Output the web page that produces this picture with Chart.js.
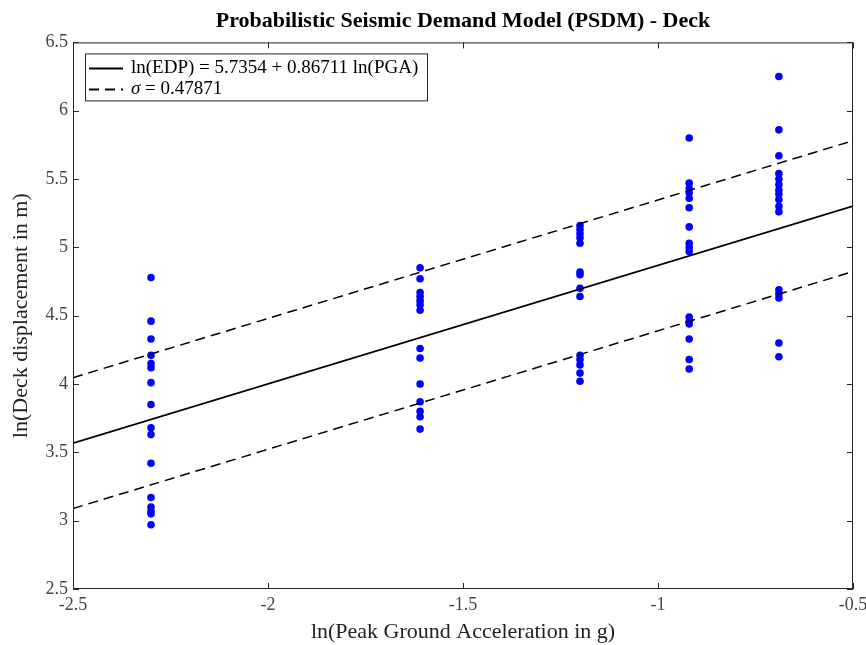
<!DOCTYPE html>
<html>
<head>
<meta charset="utf-8">
<title>PSDM - Deck</title>
<script src="https://cdn.jsdelivr.net/npm/chart.js@4/dist/chart.umd.min.js"></script>
<style>
  html, body { margin: 0; padding: 0; background: #fff; }
  #wrap { width: 866px; height: 645px; position: relative; }
</style>
</head>
<body>
<div id="wrap"><canvas id="psdm-chart" width="866" height="645"></canvas></div>
<script>
// ln(PGA) levels, one column of records each
const lnPGA = [-2.30, -1.61, -1.20, -0.92, -0.69];

// ln(deck displacement)
const lnEDP_01 = [4.78, 4.46, 4.33, 4.21, 4.15, 4.12, 4.01, 3.85, 3.68, 3.63, 3.42, 3.17, 3.10, 3.07, 3.05, 2.97];
const lnEDP_02 = [4.85, 4.77, 4.67, 4.64, 4.61, 4.58, 4.54, 4.26, 4.19, 4.00, 3.87, 3.80, 3.76, 3.67];
const lnEDP_03 = [5.16, 5.13, 5.10, 5.07, 5.03, 4.82, 4.80, 4.70, 4.64, 4.21, 4.18, 4.14, 4.08, 4.02];
const lnEDP_04 = [5.80, 5.47, 5.43, 5.40, 5.36, 5.29, 5.15, 5.03, 5.00, 4.97, 4.49, 4.46, 4.44, 4.33, 4.18, 4.11];
const lnEDP_05 = [6.25, 5.86, 5.67, 5.54, 5.50, 5.46, 5.42, 5.39, 5.35, 5.30, 5.26, 4.69, 4.66, 4.63, 4.30, 4.20];
const columns = [lnEDP_01, lnEDP_02, lnEDP_03, lnEDP_04, lnEDP_05];

// fitted model from the legend
const intercept = 5.7354;
const slope = 0.86711;
const sigma = 0.47871;
const fitX = [-2.5, -0.5];

// axis ticks
const xTicks = [-2.5, -2, -1.5, -1, -0.5];
const yTicks = [2.5, 3, 3.5, 4, 4.5, 5, 5.5, 6, 6.5];

const serif = '"Liberation Serif", "Times New Roman", serif';

const scatterPts = [];
columns.forEach((col, i) => col.forEach(v => scatterPts.push({ x: lnPGA[i], y: v })));

const fitLine = fitX.map(x => ({ x: x, y: intercept + slope * x }));
const upperLine = fitX.map(x => ({ x: x, y: intercept + slope * x + sigma }));
const lowerLine = fitX.map(x => ({ x: x, y: intercept + slope * x - sigma }));

// box around the axes, inward ticks, and the boxed legend
const matlabAxes = {
  id: 'matlabAxes',
  afterDraw(chart) {
    const { ctx, chartArea: a, scales } = chart;
    ctx.save();
    ctx.strokeStyle = '#262626';
    ctx.lineWidth = 1;
    ctx.strokeRect(a.left + 0.5, a.top + 0.5, a.width - 1, a.height - 1);

    const tl = 6;
    ctx.beginPath();
    xTicks.forEach(t => {
      const px = Math.round(scales.x.getPixelForValue(t)) + 0.5;
      ctx.moveTo(px, a.bottom); ctx.lineTo(px, a.bottom - tl);
      ctx.moveTo(px, a.top); ctx.lineTo(px, a.top + tl);
    });
    yTicks.forEach(t => {
      const py = Math.round(scales.y.getPixelForValue(t)) + 0.5;
      ctx.moveTo(a.left, py); ctx.lineTo(a.left + tl, py);
      ctx.moveTo(a.right, py); ctx.lineTo(a.right - tl, py);
    });
    ctx.stroke();

    // legend
    const lx = a.left + 12, ly = a.top + 11, lw = 342, lh = 47;
    ctx.fillStyle = '#fff';
    ctx.fillRect(lx, ly, lw, lh);
    ctx.strokeStyle = '#262626';
    ctx.strokeRect(lx + 0.5, ly + 0.5, lw, lh);

    const rows = [ly + 15, ly + 36];
    ctx.strokeStyle = '#000';
    ctx.lineWidth = 2;
    ctx.beginPath();
    ctx.moveTo(lx + 4, rows[0]); ctx.lineTo(lx + 38, rows[0]);
    ctx.stroke();
    ctx.setLineDash([10, 6]);
    ctx.beginPath();
    ctx.moveTo(lx + 4, rows[1]); ctx.lineTo(lx + 38, rows[1]);
    ctx.stroke();
    ctx.setLineDash([]);

    ctx.fillStyle = '#000';
    ctx.textBaseline = 'middle';
    ctx.textAlign = 'left';
    ctx.font = '19px ' + serif;
    ctx.fillText('ln(EDP) = 5.7354 + 0.86711 ln(PGA)', lx + 46, rows[0]);
    ctx.font = 'italic 19px ' + serif;
    ctx.fillText('σ', lx + 46, rows[1]);
    const sw = ctx.measureText('σ').width;
    ctx.font = '19px ' + serif;
    ctx.fillText(' = 0.47871', lx + 46 + sw, rows[1]);
    ctx.restore();
  }
};

const ctx = document.getElementById('psdm-chart').getContext('2d');
new Chart(ctx, {
  type: 'scatter',
  data: {
    datasets: [
      {
        label: 'fit',
        type: 'line',
        data: fitLine,
        borderColor: '#000',
        borderWidth: 1.8,
        pointRadius: 0,
        fill: false,
        order: 1
      },
      {
        label: 'upper',
        type: 'line',
        data: upperLine,
        borderColor: '#000',
        borderWidth: 1.5,
        borderDash: [10, 6],
        pointRadius: 0,
        fill: false,
        order: 1
      },
      {
        label: 'lower',
        type: 'line',
        data: lowerLine,
        borderColor: '#000',
        borderWidth: 1.5,
        borderDash: [10, 6],
        pointRadius: 0,
        fill: false,
        order: 1
      },
      {
        label: 'records',
        data: scatterPts,
        backgroundColor: '#0000ff',
        borderColor: '#0000ff',
        borderWidth: 0,
        pointRadius: 3.8,
        order: 2
      }
    ]
  },
  options: {
    responsive: false,
    animation: false,
    devicePixelRatio: 1,
    layout: { padding: { left: 0, right: 13, top: 0, bottom: 0 } },
    plugins: {
      legend: { display: false },
      tooltip: { enabled: false },
      title: {
        display: true,
        fullSize: false,
        text: 'Probabilistic Seismic Demand Model (PSDM) - Deck',
        color: '#000',
        font: { family: serif, size: 22, weight: 'bold', lineHeight: 1.2 },
        padding: { top: 8, bottom: 8 }
      }
    },
    scales: {
      x: {
        type: 'linear',
        min: -2.5,
        max: -0.5,
        afterFit: s => { s.height = 56; s.paddingLeft = 0; s.paddingRight = 0; },
        afterBuildTicks: s => { s.ticks = xTicks.map(v => ({ value: v })); },
        grid: { display: false, drawTicks: false },
        border: { display: false },
        ticks: {
          color: '#444', padding: 5, maxRotation: 0,
          font: { family: serif, size: 18 },
          callback: v => String(v)
        },
        title: {
          display: true,
          text: 'ln(Peak Ground Acceleration in g)',
          color: '#222',
          font: { family: serif, size: 22 },
          padding: { top: 0, bottom: 0 }
        }
      },
      y: {
        type: 'linear',
        min: 2.5,
        max: 6.5,
        afterFit: s => { s.width = 73; s.paddingTop = 0; s.paddingBottom = 0; },
        afterBuildTicks: s => { s.ticks = yTicks.map(v => ({ value: v })); },
        grid: { display: false, drawTicks: false },
        border: { display: false },
        ticks: {
          color: '#444', padding: 5,
          font: { family: serif, size: 18 },
          callback: v => String(v)
        },
        title: {
          display: true,
          text: 'ln(Deck displacement in m)',
          color: '#222',
          font: { family: serif, size: 22 },
          padding: { top: 8, bottom: 0 }
        }
      }
    }
  },
  plugins: [matlabAxes]
});
</script>
</body>
</html>
